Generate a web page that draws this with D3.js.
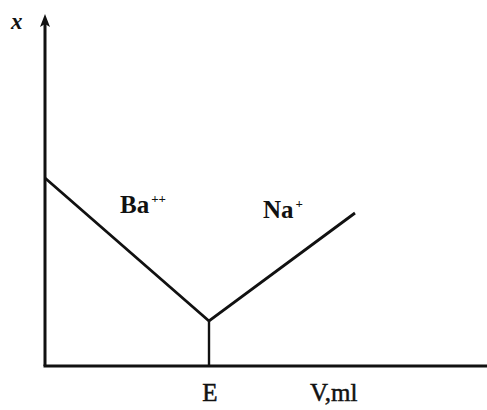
<!DOCTYPE html>
<html>
<head>
<meta charset="utf-8">
<script src="https://cdn.jsdelivr.net/npm/d3@7"></script>
<style>
  html, body { margin: 0; padding: 0; background: #fff; }
  svg { display: block; }
  text { font-family: "Liberation Serif", "DejaVu Serif", serif; fill: #111; }
</style>
</head>
<body>
<svg id="chart" width="487" height="410"></svg>
<script>
// Conductometric titration curve: conductance x against titrant volume V
const volumes     = [0, 16.4, 31.0];     // V, ml
const conductance = [18.8, 4.5, 15.3];   // x
const endpointV   = 16.4;                // E
const segmentLabels = [
  { text: "Ba", sup: "++", v: 7.5,  x: 15.3 },
  { text: "Na", sup: "+",  v: 21.8, x: 14.8 }
];
const axisLabels = { y: "x", endpoint: "E", x: "V,ml" };

(function draw() {
  const svg = d3.select("#chart");
  const plotLeft = 45, plotBottom = 366, plotTop = 16, plotRight = 487;

  const xScale = d3.scaleLinear().domain([0, 44.2]).range([plotLeft, plotRight]);
  const yScale = d3.scaleLinear().domain([0, 35]).range([plotBottom, plotTop]);

  // axes
  svg.append("line")
    .attr("x1", xScale(0) - 1.5).attr("y1", yScale(0))
    .attr("x2", xScale(44.2)).attr("y2", yScale(0))
    .attr("stroke", "#111").attr("stroke-width", 3);
  svg.append("line")
    .attr("x1", xScale(0)).attr("y1", yScale(0))
    .attr("x2", xScale(0)).attr("y2", yScale(35) + 6)
    .attr("stroke", "#111").attr("stroke-width", 3);
  // arrowhead on the vertical axis
  const ax = xScale(0), ay = yScale(35);
  svg.append("path")
    .attr("d", `M${ax},${ay - 2} L${ax - 5},${ay + 11} L${ax},${ay + 8} L${ax + 5},${ay + 11} Z`)
    .attr("fill", "#111");

  // titration curve
  const line = d3.line().x((d, i) => xScale(volumes[i])).y(d => yScale(d));
  svg.append("path")
    .datum(conductance)
    .attr("d", line)
    .attr("fill", "none")
    .attr("stroke", "#111")
    .attr("stroke-width", 2.8)
    .attr("stroke-linejoin", "miter");

  // drop line at the equivalence point
  svg.append("line")
    .attr("x1", xScale(endpointV)).attr("y1", yScale(conductance[1]))
    .attr("x2", xScale(endpointV)).attr("y2", yScale(0))
    .attr("stroke", "#111").attr("stroke-width", 2.4);

  // segment labels
  segmentLabels.forEach(l => {
    const t = svg.append("text")
      .attr("x", xScale(l.v)).attr("y", yScale(l.x))
      .attr("font-size", 25).attr("font-weight", "bold");
    t.append("tspan").text(l.text);
    t.append("tspan").text(l.sup).attr("font-size", 13).attr("dy", -10).attr("dx", 2);
  });

  // axis labels
  svg.append("text")
    .attr("x", 11).attr("y", 29)
    .attr("font-size", 23).attr("font-style", "italic").attr("font-weight", "bold")
    .text(axisLabels.y);
  svg.append("text")
    .attr("x", xScale(endpointV) + 1).attr("y", 401)
    .attr("text-anchor", "middle")
    .attr("font-size", 25)
    .attr("stroke", "#111").attr("stroke-width", 0.5)
    .text(axisLabels.endpoint);
  svg.append("text")
    .attr("x", 310).attr("y", 401)
    .attr("font-size", 25)
    .attr("stroke", "#111").attr("stroke-width", 0.5)
    .text(axisLabels.x);
})();
</script>
</body>
</html>
